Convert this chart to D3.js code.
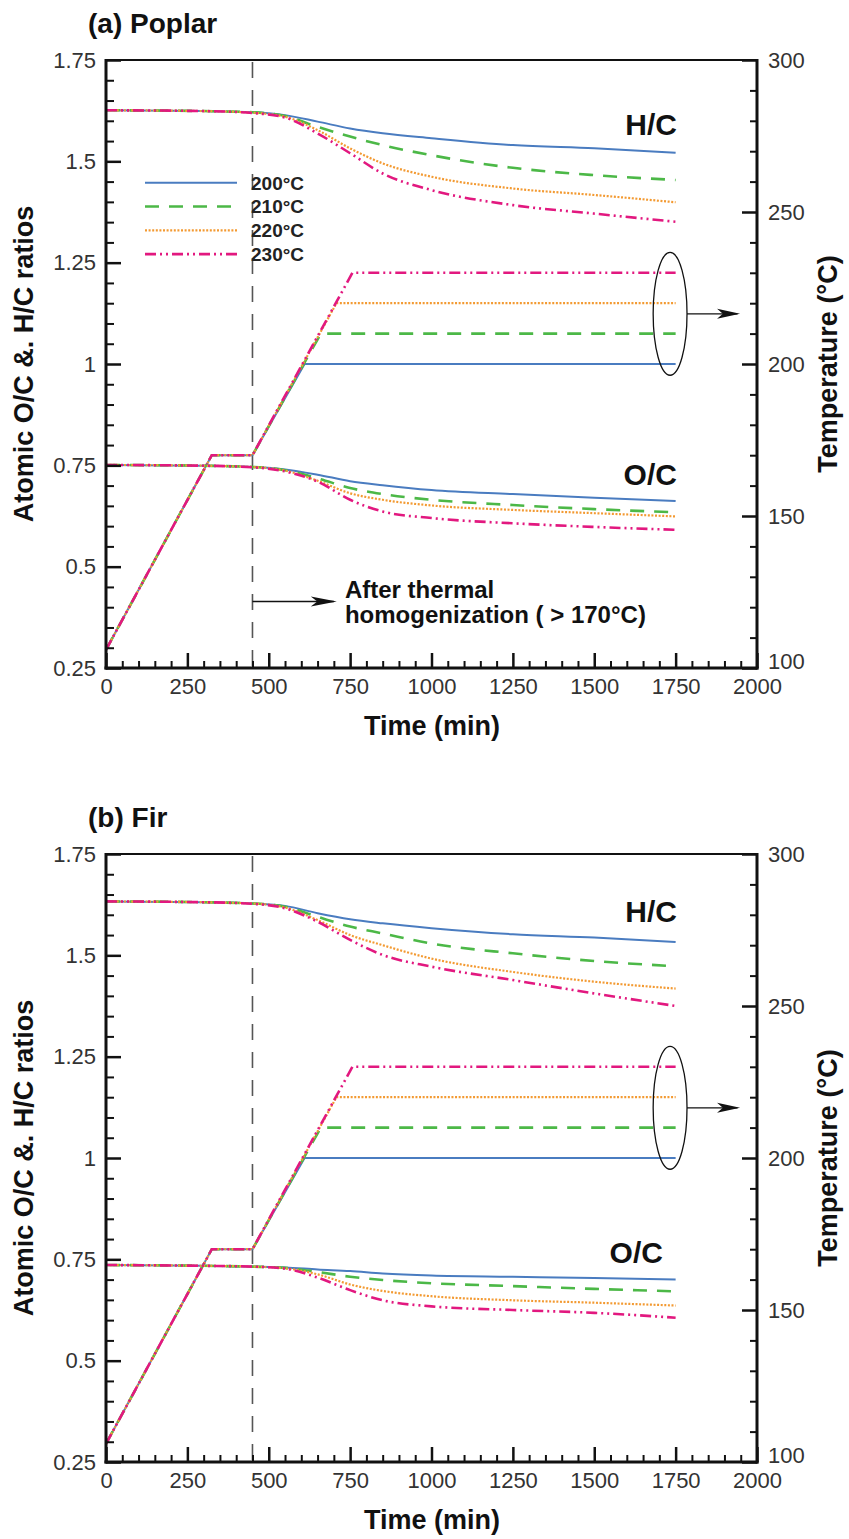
<!DOCTYPE html>
<html>
<head>
<meta charset="utf-8">
<script src="https://cdn.jsdelivr.net/npm/d3@7"></script>
<style>
  body { margin: 0; background: #fff; }
  svg { display: block; }
  text { font-family: "Liberation Sans", Arial, sans-serif; }
</style>
</head>
<body>
<div id="chart"></div>
<script>
// ---- data ----
const series = ["200°C", "210°C", "220°C", "230°C"];
const times = [0, 300, 450, 550, 650, 750, 850, 1000, 1250, 1500, 1750];

// (a) Poplar
const poplarHC = [
  [1.626, 1.624, 1.621, 1.614, 1.598, 1.581, 1.569, 1.557, 1.540, 1.532, 1.521],
  [1.626, 1.624, 1.621, 1.612, 1.585, 1.561, 1.540, 1.515, 1.484, 1.466, 1.454],
  [1.626, 1.624, 1.620, 1.610, 1.577, 1.532, 1.495, 1.462, 1.433, 1.417, 1.399],
  [1.626, 1.624, 1.619, 1.608, 1.569, 1.520, 1.470, 1.429, 1.392, 1.371, 1.351]
];
const poplarOC = [
  [0.751, 0.749, 0.746, 0.740, 0.727, 0.711, 0.701, 0.689, 0.679, 0.670, 0.662],
  [0.751, 0.749, 0.746, 0.738, 0.718, 0.694, 0.679, 0.665, 0.652, 0.642, 0.634],
  [0.751, 0.749, 0.746, 0.737, 0.712, 0.681, 0.665, 0.651, 0.640, 0.632, 0.624],
  [0.751, 0.749, 0.745, 0.735, 0.710, 0.665, 0.636, 0.620, 0.607, 0.598, 0.591]
];

// (b) Fir
const firHC = [
  [1.633, 1.631, 1.628, 1.622, 1.604, 1.589, 1.579, 1.567, 1.552, 1.544, 1.533],
  [1.633, 1.631, 1.628, 1.620, 1.595, 1.571, 1.554, 1.529, 1.505, 1.486, 1.473],
  [1.633, 1.631, 1.628, 1.618, 1.587, 1.550, 1.525, 1.492, 1.459, 1.435, 1.418],
  [1.633, 1.631, 1.627, 1.616, 1.583, 1.538, 1.501, 1.472, 1.439, 1.406, 1.375]
];
const firOC = [
  [0.736, 0.734, 0.732, 0.730, 0.725, 0.721, 0.715, 0.710, 0.707, 0.704, 0.700],
  [0.736, 0.734, 0.732, 0.729, 0.719, 0.707, 0.699, 0.691, 0.684, 0.677, 0.671],
  [0.736, 0.734, 0.732, 0.728, 0.713, 0.688, 0.672, 0.659, 0.649, 0.643, 0.636],
  [0.736, 0.734, 0.732, 0.727, 0.705, 0.674, 0.649, 0.634, 0.625, 0.618, 0.606]
];

// temperature programme (same for both woods)
const tempTimes = [
  [0, 325, 450, 610, 1750],
  [0, 325, 450, 660, 1750],
  [0, 325, 450, 708, 1750],
  [0, 325, 450, 757, 1750]
];
const tempValues = [
  [106, 170, 170, 200, 200],
  [106, 170, 170, 210, 210],
  [106, 170, 170, 220, 220],
  [106, 170, 170, 230, 230]
];
const homogenizationTime = 450;

const xTicks = [0, 250, 500, 750, 1000, 1250, 1500, 1750, 2000];
const yTicks = [0.25, 0.5, 0.75, 1, 1.25, 1.5, 1.75];
const yTickLabels = ["0.25", "0.5", "0.75", "1", "1.25", "1.5", "1.75"];
const tTicks = [100, 150, 200, 250, 300];

// ---- styles ----
const colors = ["#4a7cc0", "#4cb847", "#f39a32", "#e2187f"];
const dashes = [null, "14,10", "2,1.6", "11,4,2,4,2,4"];
const widths = [2, 2.6, 2.2, 2.6];
const font = '"Liberation Sans", Arial, sans-serif';

const W = 849, H = 1539;
const left = 106, right = 757, ph = 608;

const svg = d3.select("#chart").append("svg")
    .attr("width", W)
    .attr("height", H);

svg.append("rect").attr("width", W).attr("height", H).attr("fill", "#fff");

const x = d3.scaleLinear().domain([0, 2000]).range([left, right]);

function arrowHead(g, tipX, y, len, half) {
    g.append("path")
        .attr("d", `M${tipX},${y} L${tipX - len},${y - half} L${tipX - len * 0.75},${y} L${tipX - len},${y + half} Z`)
        .attr("fill", "#111");
}

function panel(top, title, hc, oc, opts) {
    const y = d3.scaleLinear().domain([0.25, 1.75]).range([top + ph, top]);
    const yT = d3.scaleLinear().domain([100, 300]).range([top + ph, top]);
    const g = svg.append("g");

    // title
    g.append("text")
        .attr("x", 88).attr("y", top - 27)
        .attr("font-size", 28).attr("font-weight", "bold").attr("fill", "#111")
        .text(title);

    // homogenization line
    g.append("line")
        .attr("x1", x(homogenizationTime)).attr("x2", x(homogenizationTime))
        .attr("y1", top + 2).attr("y2", top + ph)
        .attr("stroke", "#555").attr("stroke-width", 1.6)
        .attr("stroke-dasharray", "16,12");

    const line = d3.line().x(d => x(d[0])).y(d => y(d[1])).curve(d3.curveMonotoneX);
    const tLine = d3.line().x(d => x(d[0])).y(d => yT(d[1]));

    // temperature
    tempTimes.forEach((tt, i) => {
        g.append("path")
            .attr("d", tLine(tt.map((t, j) => [t, tempValues[i][j]])))
            .attr("fill", "none").attr("stroke", colors[i])
            .attr("stroke-width", widths[i])
            .attr("stroke-dasharray", dashes[i]);
    });

    // H/C and O/C
    [hc, oc].forEach(set => {
        set.forEach((vals, i) => {
            g.append("path")
                .attr("d", line(times.map((t, j) => [t, vals[j]])))
                .attr("fill", "none").attr("stroke", colors[i])
                .attr("stroke-width", widths[i])
                .attr("stroke-dasharray", dashes[i]);
        });
    });

    // curve labels
    g.append("text").attr("x", x(opts.hc[0])).attr("y", y(opts.hc[1]))
        .attr("text-anchor", "end").attr("font-size", 30).attr("font-weight", "bold")
        .attr("fill", "#111").text("H/C");
    g.append("text").attr("x", x(opts.oc[0])).attr("y", y(opts.oc[1]))
        .attr("text-anchor", "end").attr("font-size", 30).attr("font-weight", "bold")
        .attr("fill", "#111").text("O/C");

    // ellipse pointing to temperature axis
    const ex = x(1733), ey = yT(216.5);
    g.append("ellipse")
        .attr("cx", ex).attr("cy", ey)
        .attr("rx", x(1785) - ex).attr("ry", yT(196.3) - ey)
        .attr("fill", "none").attr("stroke", "#111").attr("stroke-width", 1.3);
    g.append("line")
        .attr("x1", x(1785)).attr("x2", x(1940)).attr("y1", ey).attr("y2", ey)
        .attr("stroke", "#111").attr("stroke-width", 1.3);
    arrowHead(g, x(1948), ey, 23, 5);

    // axes
    const fmt = d => yTickLabels[yTicks.indexOf(d)];
    const minorX = d3.range(0, 2001, 50).filter(v => v % 250 !== 0);
    const minorY = d3.range(0.25, 1.751, 0.05).filter(v => Math.abs(v * 4 - Math.round(v * 4)) > 1e-6);
    const minorT = d3.range(100, 301, 10).filter(v => v % 50 !== 0);

    const ax = (gen, tr) => {
        const a = g.append("g").attr("transform", tr).call(gen);
        a.select(".domain").remove();
        a.selectAll("text").attr("font-family", font).attr("font-size", 22).attr("fill", "#333");
        return a;
    };
    ax(d3.axisBottom(x).tickValues(minorX).tickSize(-7).tickFormat(""), `translate(0,${top + ph})`)
        .selectAll("line").attr("stroke", "#111").attr("stroke-width", 2);
    ax(d3.axisBottom(x).tickValues(xTicks).tickSize(-15).tickPadding(10).tickFormat(d3.format("d")), `translate(0,${top + ph})`)
        .selectAll("line").attr("stroke", "#111").attr("stroke-width", 2.5);
    ax(d3.axisLeft(y).tickValues(minorY).tickSize(-8).tickFormat(""), `translate(${left},0)`)
        .selectAll("line").attr("stroke", "#111").attr("stroke-width", 2);
    ax(d3.axisLeft(y).tickValues(yTicks).tickSize(-15).tickPadding(10).tickFormat(fmt), `translate(${left},0)`)
        .selectAll("line").attr("stroke", "#111").attr("stroke-width", 2.5);
    ax(d3.axisRight(yT).tickValues(minorT).tickSize(-7).tickFormat(""), `translate(${right},0)`)
        .selectAll("line").attr("stroke", "#111").attr("stroke-width", 2);
    const rAx = ax(d3.axisRight(yT).tickValues(tTicks).tickSize(-15).tickPadding(11), `translate(${right},0)`);
    rAx.selectAll("line").attr("stroke", "#111").attr("stroke-width", 2.5);
    // lowest label sits just above the "2000" of the time axis
    rAx.selectAll("text").filter(d => d === 100).attr("y", -7);

    // frame
    g.append("line").attr("x1", left).attr("x2", right).attr("y1", top).attr("y2", top)
        .attr("stroke", "#111").attr("stroke-width", 2);
    g.append("line").attr("x1", left).attr("x2", left).attr("y1", top - 1).attr("y2", top + ph + 1.5)
        .attr("stroke", "#111").attr("stroke-width", 3);
    g.append("line").attr("x1", right).attr("x2", right).attr("y1", top - 1).attr("y2", top + ph + 1.5)
        .attr("stroke", "#111").attr("stroke-width", 3);
    g.append("line").attr("x1", left - 1.5).attr("x2", right + 1.5).attr("y1", top + ph).attr("y2", top + ph)
        .attr("stroke", "#111").attr("stroke-width", 3);

    // axis titles
    g.append("text")
        .attr("x", 432).attr("y", top + ph + 67)
        .attr("text-anchor", "middle").attr("font-size", 27).attr("font-weight", "bold")
        .attr("fill", "#111").text("Time (min)");
    g.append("text")
        .attr("transform", `translate(33,${top + ph / 2}) rotate(-90)`)
        .attr("text-anchor", "middle").attr("font-size", 27).attr("font-weight", "bold")
        .attr("fill", "#111").text("Atomic O/C &. H/C ratios");
    g.append("text")
        .attr("transform", `translate(837,${top + ph / 2}) rotate(-90)`)
        .attr("text-anchor", "middle").attr("font-size", 27).attr("font-weight", "bold")
        .attr("fill", "#111").text("Temperature (°C)");

    // legend
    if (opts.legend) {
        series.forEach((s, i) => {
            const ly = top + 122.7 + i * 23.8;
            g.append("line")
                .attr("x1", 145).attr("x2", 237).attr("y1", ly).attr("y2", ly)
                .attr("stroke", colors[i]).attr("stroke-width", widths[i])
                .attr("stroke-dasharray", dashes[i]);
            g.append("text")
                .attr("x", 251).attr("y", ly).attr("dy", "0.36em")
                .attr("font-size", 19).attr("font-weight", "bold").attr("fill", "#222")
                .text(s);
        });
    }

    // homogenization annotation
    if (opts.note) {
        const ay = y(0.414);
        g.append("line")
            .attr("x1", x(homogenizationTime)).attr("x2", x(700)).attr("y1", ay).attr("y2", ay)
            .attr("stroke", "#111").attr("stroke-width", 1.5);
        arrowHead(g, x(709), ay, 26, 5);
        g.append("text").attr("x", x(734)).attr("y", y(0.423))
            .attr("font-size", 24).attr("font-weight", "bold").attr("fill", "#111")
            .text("After thermal");
        g.append("text").attr("x", x(734)).attr("y", y(0.361))
            .attr("font-size", 24).attr("font-weight", "bold").attr("fill", "#111")
            .text("homogenization ( > 170°C)");
    }
}

panel(60, "(a) Poplar", poplarHC, poplarOC,
    { hc: [1754, 1.565], oc: [1754, 0.702], legend: true, note: true });
panel(854, "(b) Fir", firHC, firOC,
    { hc: [1754, 1.583], oc: [1711, 0.741], legend: false, note: false });
</script>
</body>
</html>
